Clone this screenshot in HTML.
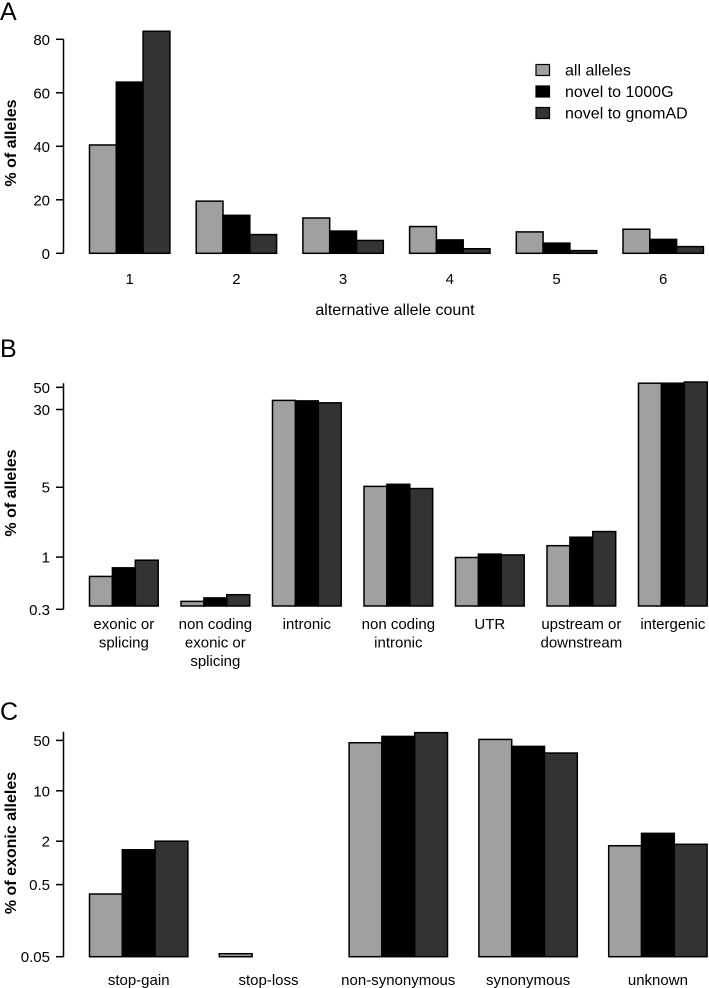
<!DOCTYPE html>
<html><head><meta charset="utf-8"><style>
html,body{margin:0;padding:0;background:#fff}
svg{display:block;font-family:"Liberation Sans",Arial,sans-serif}
</style></head><body>
<svg id="chart" width="709" height="988" viewBox="0 0 709 988"></svg>
<script>
const seriesNames = ["all alleles","novel to 1000G","novel to gnomAD"];
const seriesColors = ["#a0a0a0","#000000","#333333"];

const catsA = ["1","2","3","4","5","6"];
const aAll = [40.5,19.5,13.2,10,8,9];
const a1000G = [64,14.2,8.3,5,3.8,5.2];
const aGnomad = [83,7,4.8,1.7,1,2.5];
const ticksA = [0,20,40,60,80];

const catsB = [["exonic or","splicing"],["non coding","exonic or","splicing"],["intronic"],["non coding","intronic"],["UTR"],["upstream or","downstream"],["intergenic"]];
const bAll = [0.64,0.36,37,5.1,0.99,1.30,55];
const b1000G = [0.78,0.39,36.6,5.35,1.07,1.58,55];
const bGnomad = [0.93,0.42,35,4.85,1.05,1.80,56.5];
const ticksB = [0.3,1,5,30,50];

const catsC = ["stop-gain","stop-loss","non-synonymous","synonymous","unknown"];
const cAll = [0.37,0.055,46.4,51.6,1.73];
const c1000G = [1.52,null,56.8,41.3,2.57];
const cGnomad = [2.0,null,64,33.4,1.81];
const ticksC = [0.05,0.5,2,10,50];

const NS="http://www.w3.org/2000/svg";
const svg=document.getElementById('chart');
function mk(tag,attrs,parent){const e=document.createElementNS(NS,tag);for(const k in attrs)e.setAttribute(k,attrs[k]);(parent||svg).appendChild(e);return e;}
function txt(s,attrs,parent){const e=mk('text',attrs,parent);e.textContent=s;return e;}

function panel(cfg){
  const g=mk('g',{});
  
  
  const L=txt(cfg.letter,{x:0,y:cfg.letterY,'font-size':25},g);
  
  
  // axis
  const ax=mk('g',{},g);
  
  
  mk('line',{x1:63.5,x2:63.5,y1:cfg.axisTop,y2:cfg.y(cfg.ticks[0]),stroke:'#000','stroke-width':1.5},ax);
  cfg.ticks.forEach(t=>{
    const y=cfg.y(t);
    mk('line',{x1:56,x2:63.5,y1:y,y2:y,stroke:'#000','stroke-width':1.5},ax);
    const tl=txt(String(t),{x:50,y:y+5.5,'font-size':15,'text-anchor':'end'},ax);
    
    
  });
  const yl=txt(cfg.ylabel,{x:0,y:0,'font-size':16,'font-weight':'bold','text-anchor':'middle',transform:`translate(16,${cfg.ylabelY}) rotate(-90)`},g);
  
  
  const series=[cfg.s0,cfg.s1,cfg.s2];
  cfg.cats.forEach((c,i)=>{
    const gx=cfg.x0+i*cfg.period;
    for(let s=0;s<3;s++){
      const v=series[s][i];
      if(v==null)continue;
      const top=cfg.y(v);
      const r=mk('rect',{x:gx+s*cfg.bw,y:Math.min(top,cfg.base),width:cfg.bw,height:Math.abs(cfg.base-top),fill:seriesColors[s],stroke:'#000','stroke-width':1.5},g);
      
      
    }
    const cx=gx+cfg.bw*1.5;
    const lines=Array.isArray(c)?c:[c];
    lines.forEach((ln,k)=>{
      const t=txt(ln,{x:cx,y:cfg.labelY+k*18.5,'font-size':15,'text-anchor':'middle'},g);
      
      
    });
  });
}

// Panel A
const yA=v=>253.3-(v/80)*214;
panel({name:'panel-a',letter:'A',letterY:20,cats:catsA,s0:aAll,s1:a1000G,s2:aGnomad,ticks:ticksA,y:yA,base:253.3,axisTop:yA(80),x0:89.5,period:106.7,bw:26.8,labelY:284,ylabel:'% of alleles',ylabelY:143});
const xt=txt('alternative allele count',{x:395,y:315,'font-size':16,'text-anchor':'middle'});


// legend
const lg=mk('g',{});


seriesNames.forEach((n,i)=>{
  const y=70+i*21.5;
  const b=mk('rect',{x:536,y:y-5.5,width:13.5,height:11,fill:seriesColors[i],stroke:'#000','stroke-width':1.2},lg);
  
  
  const t=txt(n,{x:565,y:y+5.5,'font-size':16},lg);
  
  
});

// Panel B (log)
const yB=v=>609.3-Math.log10(v/0.3)*99.9;
panel({name:'panel-b',letter:'B',letterY:357,cats:catsB,s0:bAll,s1:b1000G,s2:bGnomad,ticks:ticksB,y:yB,base:606,axisTop:383.3,x0:89.5,period:91.5,bw:22.9,labelY:629,ylabel:'% of alleles',ylabelY:493});

// Panel C (log)
const yC=v=>956.7-Math.log10(v/0.05)*72.1;
panel({name:'panel-c',letter:'C',letterY:720,cats:catsC,s0:cAll,s1:c1000G,s2:cGnomad,ticks:ticksC,y:yC,base:956.7,axisTop:731.7,x0:89.5,period:129.8,bw:32.8,labelY:985,ylabel:'% of exonic alleles',ylabelY:843});
</script>
</body></html>
